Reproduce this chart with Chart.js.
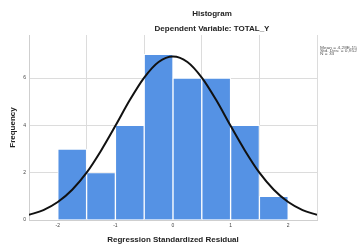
<!DOCTYPE html>
<html lang="en">
<head>
    <meta charset="UTF-8">
    <title>Histogram</title>
    <script src="https://cdn.jsdelivr.net/npm/chart.js"></script>
    <style>
        html, body { margin: 0; padding: 0; background: #fff; }
        #wrap { width: 363px; height: 244px; }
    </style>
</head>
<body>
    <div id="wrap"><canvas id="histChart"></canvas></div>
    <script>
        // bins of the standardized residual (centres, width 0.5)
        const binCenters = [-1.75, -1.25, -0.75, -0.25, 0.25, 0.75, 1.25, 1.75];
        const frequencies = [3, 2, 4, 7, 6, 6, 4, 1];

        // normal curve
        const curveX = [-2.5, -2.25, -2, -1.75, -1.5, -1.25, -1, -0.75, -0.5, -0.25, 0,
                        0.25, 0.5, 0.75, 1, 1.25, 1.5, 1.75, 2, 2.25, 2.5];
        const curveY = [0.22, 0.42, 0.76, 1.28, 2.0, 2.93, 3.98, 5.07, 6.02, 6.68, 6.91,
                        6.68, 6.02, 5.07, 3.98, 2.93, 2.0, 1.28, 0.76, 0.42, 0.22];

        const xTicks = [-2, -1, 0, 1, 2];
        const yTicks = [0, 2, 4, 6];
        const statLines = ['Mean = 4,28E-15', 'Std. Dev. = 0,952', 'N = 33'];

        const FONT = '"Liberation Sans", Arial, sans-serif';

        // titles, axis titles and the stats box
        const labelsPlugin = {
            id: 'labels',
            afterDraw(chart) {
                const ctx = chart.ctx;
                const area = chart.chartArea;
                ctx.save();
                ctx.fillStyle = '#222';
                ctx.textBaseline = 'middle';
                ctx.textAlign = 'center';
                ctx.font = 'bold 8px ' + FONT;
                ctx.fillText('Histogram', 212, 14);
                ctx.fillText('Dependent Variable: TOTAL_Y', 212, 29);

                ctx.fillText('Regression Standardized Residual', (area.left + area.right) / 2, 240);

                ctx.save();
                ctx.translate(12.5, (area.top + area.bottom) / 2);
                ctx.rotate(-Math.PI / 2);
                ctx.fillText('Frequency', 0, 0);
                ctx.restore();

                // tiny stats text, a bit stretched as in the source
                ctx.save();
                ctx.translate(320, 47.5);
                ctx.scale(1.2, 1);
                ctx.textAlign = 'left';
                ctx.font = '4px ' + FONT;
                ctx.fillStyle = '#555';
                statLines.forEach((t, i) => ctx.fillText(t, 0, i * 3));
                ctx.restore();
                ctx.restore();
            }
        };

        new Chart(document.getElementById('histChart'), {
            type: 'bar',
            data: {
                datasets: [{
                    type: 'line',
                    data: curveX.map((x, i) => ({ x: x, y: curveY[i] })),
                    borderColor: '#111',
                    borderWidth: 2,
                    pointRadius: 0,
                    tension: 0.4,
                    cubicInterpolationMode: 'monotone',
                    order: 0
                }, {
                    type: 'bar',
                    data: binCenters.map((x, i) => ({ x: x, y: frequencies[i] })),
                    backgroundColor: '#5592e4',
                    borderColor: '#ffffff',
                    borderWidth: 1,
                    barPercentage: 1,
                    categoryPercentage: 1,
                    order: 1
                }]
            },
            options: {
                responsive: true,
                maintainAspectRatio: false,
                animation: false,
                layout: { padding: { top: 35, right: 46, left: 0, bottom: 0 } },
                plugins: {
                    legend: { display: false },
                    tooltip: { enabled: false }
                },
                scales: {
                    x: {
                        type: 'linear',
                        offset: false,
                        min: -2.5,
                        max: 2.5,
                        afterBuildTicks: s => { s.ticks = xTicks.map(v => ({ value: v })); },
                        afterFit: s => { s.height = 24; },
                        grid: { color: '#dcdcdc', lineWidth: 1, drawTicks: false },
                        border: { color: '#cfcfcf' },
                        ticks: {
                            padding: 3,
                            color: '#444',
                            font: { size: 5, family: FONT },
                            maxRotation: 0
                        }
                    },
                    y: {
                        min: 0,
                        max: 7.82,
                        afterBuildTicks: s => { s.ticks = yTicks.map(v => ({ value: v })); },
                        afterFit: s => { s.width = 29; },
                        grid: { color: '#dcdcdc', lineWidth: 1, drawTicks: false },
                        border: { color: '#cfcfcf' },
                        ticks: {
                            padding: 3,
                            color: '#444',
                            font: { size: 5, family: FONT }
                        }
                    }
                }
            },
            plugins: [labelsPlugin]
        });
    </script>
</body>
</html>
